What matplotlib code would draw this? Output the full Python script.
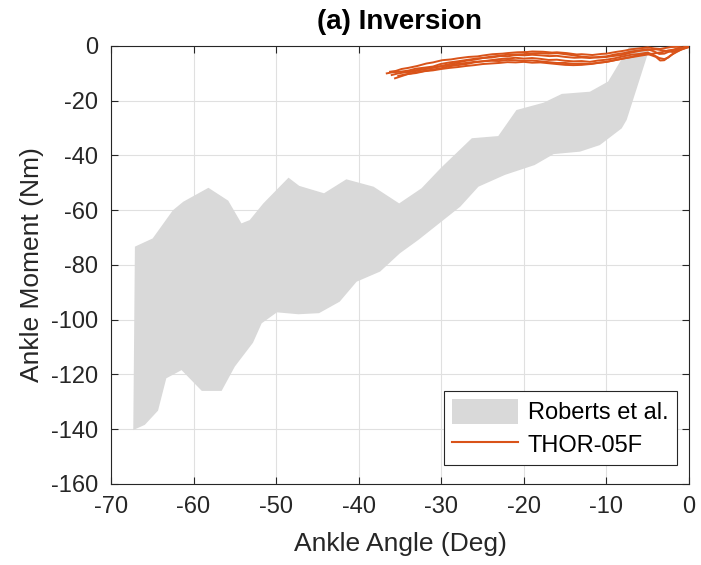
import matplotlib
matplotlib.use("Agg")
import matplotlib.pyplot as plt
from matplotlib.patches import Patch
from matplotlib.lines import Line2D

plt.rcParams['font.family'] = ['Liberation Sans', 'DejaVu Sans']
plt.rcParams['axes.unicode_minus'] = False

# Roberts et al. corridor (upper and lower edges)
upper_x = [-67.1, -64.95, -62.5, -61.25, -58.2, -55.8, -54.2, -53.2, -51.55, -48.5, -47.2,
           -44.2, -41.5, -38.2, -35.1, -32.4, -30.0, -26.3, -23.1, -20.9, -17.6, -15.4,
           -12.0, -9.8, -7.2, -6.0, -4.5]
upper_y = [-73.3, -70.3, -60.0, -56.9, -51.8, -56.5, -64.8, -63.6, -57.5, -48.1, -51.1,
           -53.8, -48.7, -51.4, -57.5, -52.0, -44.4, -33.7, -32.9, -23.4, -20.7, -17.5,
           -16.7, -13.0, 0.0, 6.0, 6.0]
lower_x = [-67.3, -65.9, -64.3, -63.3, -61.45, -59.0, -56.6, -55.0, -52.8, -51.75, -49.9,
           -47.3, -44.8, -42.3, -40.25, -37.4, -35.0, -32.8, -27.7, -25.5, -22.3, -18.7,
           -16.4, -13.2, -10.8, -8.15, -7.55, -5.1, -4.5]
lower_y = [-140.3, -138.4, -133.2, -121.4, -118.4, -126.0, -126.0, -117.1, -108.4, -101.3,
           -97.3, -98.0, -97.6, -93.4, -86.1, -82.4, -75.7, -70.9, -58.7, -51.4, -47.1,
           -43.5, -39.5, -38.6, -36.2, -30.1, -27.0, -3.9, 1.0]

# THOR-05F test curves
thor_x = [
    [-36.2, -35.5, -34.8, -34.0, -32.9, -31.8, -31.0, -29.9, -28.8, -28.0, -26.7, -25.6, -25.0, -23.8,
     -22.6, -22.0, -20.8, -19.6, -19.0, -17.7, -16.6, -16.0, -14.8, -13.6, -13.0, -11.7, -10.6, -10.0,
     -8.9, -7.8, -7.0, -6.1, -5.0, -4.2, -3.5, -3.0, -2.2, -1.5, -0.8, 0.0],
    [-36.6, -35.9, -35.0, -34.0, -33.1, -32.0, -31.0, -30.1, -29.0, -28.0, -26.9, -25.8, -25.0, -23.9,
     -22.9, -22.0, -21.0, -19.9, -19.0, -18.0, -16.9, -16.0, -15.0, -13.9, -13.0, -12.0, -10.9, -10.0,
     -9.0, -7.9, -7.0, -6.0, -5.0, -4.3, -3.6, -3.0, -2.3, -1.5, -0.7, 0.0],
    [-35.6, -35.0, -34.6, -34.0, -33.0, -32.0, -31.0, -30.0, -29.0, -28.0, -27.0, -26.0, -25.0, -24.0,
     -23.0, -22.0, -21.0, -20.0, -19.0, -18.0, -17.0, -16.0, -15.0, -14.0, -13.0, -12.0, -11.0, -10.0,
     -9.0, -8.0, -7.0, -6.0, -5.0, -4.3, -3.6, -3.0, -2.5, -2.0, -1.0, 0.0],
    [-36.0, -35.2, -34.1, -33.0, -32.0, -31.0, -30.0, -29.0, -28.0, -27.0, -26.0, -25.0, -24.0, -23.0,
     -22.0, -21.0, -20.0, -19.0, -18.0, -17.0, -16.0, -15.0, -14.0, -13.0, -12.0, -11.0, -10.0, -9.0,
     -8.0, -7.0, -6.0, -5.0, -4.0, -3.2, -2.5, -1.8, -1.0, -0.5, 0.0],
    [-35.2, -34.2, -33.1, -32.0, -31.0, -30.0, -29.0, -28.0, -27.0, -26.0, -25.0, -24.0, -23.0, -22.0,
     -21.0, -20.0, -19.0, -18.0, -17.0, -16.0, -15.0, -14.0, -13.0, -12.0, -11.0, -10.0, -9.0, -8.0,
     -7.0, -6.0, -5.0, -4.0, -3.5, -3.0, -2.3, -1.5, -0.8, 0.0],
    [-34.0, -33.2, -32.3, -31.5, -30.3, -29.0, -28.0, -27.0, -26.0, -25.0, -24.0, -23.0, -22.0, -21.0,
     -20.0, -19.0, -18.0, -17.0, -16.0, -15.0, -14.0, -13.0, -12.0, -11.0, -10.0, -9.0, -8.0, -7.0,
     -6.0, -5.0, -4.0, -3.0, -2.0, -1.0, 0.0],
]
thor_y = [
    [-9.4, -9.1, -8.4, -8.0, -7.3, -6.4, -6.0, -5.2, -4.9, -4.5, -4.0, -3.8, -3.5, -3.0,
     -2.8, -2.6, -2.3, -2.2, -2.0, -2.1, -2.4, -2.3, -2.6, -3.1, -3.0, -3.3, -2.9, -2.8,
     -2.2, -1.7, -1.2, -0.9, -0.5, -0.9, -1.1, -0.8, -0.4, -0.3, -0.5, 0.0],
    [-10.0, -9.6, -9.4, -9.0, -8.3, -7.9, -7.5, -6.6, -6.0, -5.6, -5.1, -4.6, -4.4, -4.2,
     -3.7, -3.8, -3.3, -3.4, -3.2, -3.4, -3.7, -3.6, -4.0, -4.3, -4.2, -4.4, -4.0, -3.8,
     -3.1, -2.6, -2.0, -1.6, -1.2, -1.9, -2.9, -2.8, -1.9, -1.0, -0.7, 0.0],
    [-11.8, -11.2, -10.8, -10.2, -9.6, -9.1, -8.6, -8.1, -7.4, -7.0, -6.6, -6.0, -5.6, -5.2,
     -4.8, -4.6, -4.3, -4.6, -4.4, -4.7, -5.1, -5.0, -5.4, -5.6, -5.5, -5.8, -5.3, -5.0,
     -4.5, -3.8, -3.2, -2.9, -2.4, -3.3, -4.4, -4.8, -4.2, -3.0, -1.4, -0.3],
    [-10.6, -10.0, -9.5, -8.8, -8.4, -7.9, -7.4, -7.1, -6.5, -6.2, -5.8, -5.6, -5.4, -5.5,
     -5.1, -5.2, -5.4, -5.3, -5.6, -5.9, -6.2, -6.2, -6.5, -6.4, -6.6, -6.1, -5.8, -5.2,
     -4.6, -4.1, -3.6, -3.1, -2.6, -2.2, -1.6, -1.3, -0.8, -0.6, -0.2],
    [-10.9, -10.3, -9.9, -9.2, -8.9, -8.4, -8.0, -7.7, -7.3, -7.0, -6.6, -6.4, -6.2, -5.9,
     -6.0, -5.8, -6.1, -6.0, -6.3, -6.6, -6.9, -7.0, -6.9, -6.6, -6.2, -5.8, -5.2, -4.6,
     -4.0, -3.2, -2.9, -4.0, -5.3, -5.2, -3.6, -2.0, -1.1, -0.4],
    [-9.6, -9.2, -8.6, -8.2, -7.5, -6.6, -6.0, -5.4, -5.0, -4.4, -3.9, -3.6, -3.2, -3.1,
     -3.0, -2.7, -2.6, -2.8, -2.6, -3.0, -3.4, -3.9, -4.1, -4.2, -4.0, -3.6, -3.2, -2.4,
     -1.8, -1.4, -1.2, -1.7, -2.2, -1.0, -0.1],
]

x_ticks = [-70, -60, -50, -40, -30, -20, -10, 0]
y_ticks = [-160, -140, -120, -100, -80, -60, -40, -20, 0]

orange = '#D95319'
band = '#D9D9D9'
textc = '#262626'

fig = plt.figure(figsize=(7.01, 5.65), dpi=100)
ax = fig.add_axes([0.1583, 0.1434, 0.8246, 0.7752])

ax.fill(upper_x + lower_x[::-1], upper_y + lower_y[::-1], color=band, lw=0, zorder=1)
for xs, ys in zip(thor_x, thor_y):
    ax.plot(xs, ys, color=orange, lw=1.4, zorder=3)

ax.set_xlim(-70, 0)
ax.set_ylim(-160, 0)
ax.set_xticks(x_ticks)
ax.set_yticks(y_ticks)
ax.grid(True, color='#E0E0E0', lw=0.8, zorder=0)
ax.set_axisbelow(True)
ax.tick_params(direction='in', top=True, right=True, labelsize=17, colors=textc,
               length=5, width=0.8, pad=9)
for s in ax.spines.values():
    s.set_color(textc)
    s.set_linewidth(0.8)

ax.set_xlabel('Ankle Angle (Deg)', fontsize=19, color=textc, labelpad=10)
ax.set_ylabel('Ankle Moment (Nm)', fontsize=19, color=textc, labelpad=5)
ax.set_title('(a) Inversion', fontsize=20, fontweight='bold', pad=12)

handles = [Patch(facecolor=band, edgecolor='none'), Line2D([0], [0], color=orange, lw=1.5)]
leg = ax.legend(handles, ['Roberts et al.', 'THOR-05F'], loc='lower right',
                bbox_to_anchor=(0.987, 0.033), fontsize=17, fancybox=False, framealpha=1,
                edgecolor=textc, handlelength=2.8, handleheight=1.2, handletextpad=0.4,
                borderpad=0.35, labelspacing=0.3, borderaxespad=0.2)
leg.get_frame().set_linewidth(0.8)

fig.savefig('out.png', dpi=100)
